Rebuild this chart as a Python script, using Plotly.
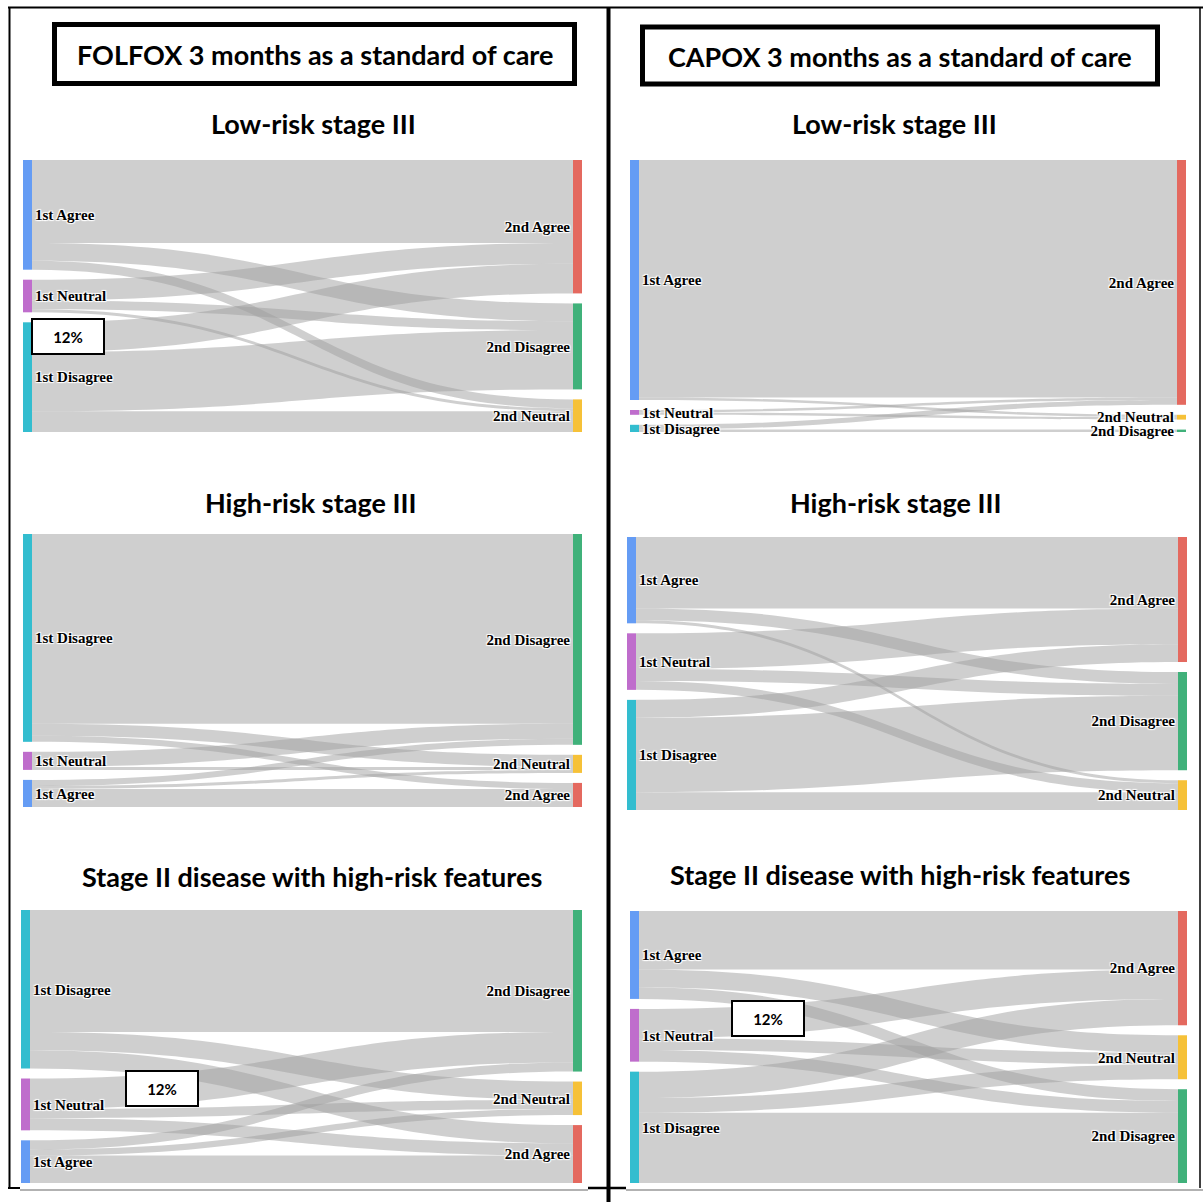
import plotly.graph_objects as go

# ---------------------------------------------------------------------------
# Data: respondents' opinion in the 1st round (rows) vs 2nd round (columns)
# order of rows / columns: Agree, Neutral, Disagree
# ---------------------------------------------------------------------------
OPINIONS = ["Agree", "Neutral", "Disagree"]

folfox_low_risk_III = [[28, 3, 6],
                       [7, 1, 3],
                       [10, 7, 20]]
folfox_high_risk_III = [[6, 1, 2],
                        [0, 1, 5],
                        [2, 4, 63]]
folfox_stage_II = [[9, 2, 3],
                   [4, 3, 10],
                   [6, 6, 40]]

capox_low_risk_III = [[99, 1, 0],
                      [1, 1, 0],
                      [2, 0, 1]]
capox_high_risk_III = [[24, 1, 4],
                       [12, 3, 4],
                       [6, 6, 25]]
capox_stage_II = [[20, 6, 4],
                  [10, 4, 4],
                  [9, 5, 24]]

REGIMEN_TITLES = ["FOLFOX 3 months as a standard of care",
                  "CAPOX 3 months as a standard of care"]
PANEL_TITLES = ["Low-risk stage III", "High-risk stage III",
                "Stage II disease with high-risk features"]

NODE_COLORS = {
    "1st Agree": "#659cf4",
    "1st Neutral": "#bf6dcc",
    "1st Disagree": "#33bdcf",
    "2nd Agree": "#e4695f",
    "2nd Neutral": "#f6c138",
    "2nd Disagree": "#40b17a",
}
LINK_COLOR = "rgba(160,160,160,0.5)"

# ---------------------------------------------------------------------------
# Page geometry (pixels)
# ---------------------------------------------------------------------------
W, H = 1203, 1202
PAD = 10        # gap between nodes
TH = 9          # node thickness
TITLE_FONT = dict(family="Lato, Open Sans, sans-serif", size=27, color="black", weight="bold")


def fx(x):
    return x / W


def fy(y):
    return 1 - y / H


# panel: flows, left order, right order, plot box (x0, y0, x1, y1), highlighted link
panels = [
    dict(flows=folfox_low_risk_III, left=["Agree", "Neutral", "Disagree"],
         right=["Agree", "Disagree", "Neutral"], box=(23, 160, 582, 432),
         note=("Disagree", "Agree", 68, 337)),
    dict(flows=folfox_high_risk_III, left=["Disagree", "Neutral", "Agree"],
         right=["Disagree", "Neutral", "Agree"], box=(23, 534, 582, 807), note=None),
    dict(flows=folfox_stage_II, left=["Disagree", "Neutral", "Agree"],
         right=["Disagree", "Neutral", "Agree"], box=(21, 910, 582, 1183),
         note=("Neutral", "Disagree", 162, 1088)),
    dict(flows=capox_low_risk_III, left=["Agree", "Neutral", "Disagree"],
         right=["Agree", "Neutral", "Disagree"], box=(630, 160, 1186, 432), note=None),
    dict(flows=capox_high_risk_III, left=["Agree", "Neutral", "Disagree"],
         right=["Agree", "Disagree", "Neutral"], box=(627, 537, 1187, 810), note=None),
    dict(flows=capox_stage_II, left=["Agree", "Neutral", "Disagree"],
         right=["Agree", "Neutral", "Disagree"], box=(630, 911, 1187, 1183),
         note=("Neutral", "Agree", 768, 1018)),
]

fig = go.Figure()
annotations = []

for p in panels:
    flows = p["flows"]
    x0, y0, x1, y1 = p["box"]
    wd, hd = x1 - x0, y1 - y0
    left_tot = {o: sum(flows[i]) for i, o in enumerate(OPINIONS)}
    right_tot = {o: sum(flows[i][j] for i in range(3)) for j, o in enumerate(OPINIONS)}
    total = sum(left_tot.values())
    ky = (hd - 2 * PAD) / total

    labels, colors, xs, ys, idx = [], [], [], [], {}
    for col, order, tot, prefix in ((0, p["left"], left_tot, "1st"),
                                    (1, p["right"], right_tot, "2nd")):
        pos = 0.0
        for o in order:
            h = tot[o] * ky
            name = f"{prefix} {o}"
            idx[name] = len(labels)
            labels.append(name)
            colors.append(NODE_COLORS[name])
            xs.append(TH / 2 / wd if col == 0 else 1 - TH / 2 / wd)
            ys.append((pos + h / 2) / hd)
            pos += h + PAD

    src, tgt, val = [], [], []
    for i, a in enumerate(OPINIONS):
        for j, b in enumerate(OPINIONS):
            if flows[i][j] > 0:
                src.append(idx[f"1st {a}"])
                tgt.append(idx[f"2nd {b}"])
                val.append(flows[i][j])

    fig.add_trace(go.Sankey(
        domain=dict(x=[fx(x0), fx(x1)], y=[fy(y1), fy(y0)]),
        arrangement="fixed",
        node=dict(label=labels, color=colors, x=xs, y=ys, pad=PAD,
                  thickness=TH, line=dict(width=0)),
        link=dict(source=src, target=tgt, value=val, color=LINK_COLOR),
        textfont=dict(family="Liberation Serif, Times New Roman, serif",
                      size=15, color="black", weight="bold"),
        hoverinfo="none",
    ))

    if p["note"]:
        a, b, cx, cy = p["note"]
        share = flows[OPINIONS.index(a)][OPINIONS.index(b)] / total
        annotations.append(dict(
            text=f"{round(share * 100)}%", x=fx(cx), y=fy(cy), xref="paper", yref="paper",
            xanchor="center", yanchor="middle", showarrow=False,
            width=70, height=33, borderwidth=2, borderpad=0,
            bordercolor="black", bgcolor="white",
            font=dict(family="Lato, Open Sans, sans-serif", size=15, color="black", weight="bold"),
        ))

# regimen headers
header_boxes = [(54.5, 24.5, 574.5, 83.5), (642.5, 27, 1157.5, 84)]
for text, (bx0, by0, bx1, by1) in zip(REGIMEN_TITLES, header_boxes):
    fig.add_shape(type="rect", xref="paper", yref="paper",
                  x0=fx(bx0), x1=fx(bx1), y0=fy(by1), y1=fy(by0),
                  line=dict(color="black", width=5), fillcolor="white", layer="below")
    annotations.append(dict(
        text=text, x=fx((bx0 + bx1) / 2), y=fy((by0 + by1) / 2 + 1), xref="paper", yref="paper",
        xanchor="center", yanchor="middle", showarrow=False, font=TITLE_FONT,
    ))

# panel titles
title_pos = [[(313, 123), (310, 502), (312, 876)],
             [(894, 123), (895, 502), (900, 874)]]
for col in range(2):
    for row, t in enumerate(PANEL_TITLES):
        tx, ty = title_pos[col][row]
        annotations.append(dict(
            text=t, x=fx(tx), y=fy(ty), xref="paper", yref="paper",
            xanchor="center", yanchor="middle", showarrow=False, font=TITLE_FONT,
        ))

# frame lines
def line(xa, ya, xb, yb, width, color="black"):
    fig.add_shape(type="line", xref="paper", yref="paper",
                  x0=fx(xa), y0=fy(ya), x1=fx(xb), y1=fy(yb),
                  line=dict(color=color, width=width))

line(8, 7.5, 1203, 7.5, 2)           # top
line(9.5, 7, 9.5, 1188, 2)           # left
line(1200, 7, 1200, 1188, 1.5)       # right
line(8, 1188, 20, 1188, 2)           # bottom-left corner
line(20, 1190, 588, 1190, 1.5, "#999999")
line(626, 1190, 1203, 1190, 1.5, "#999999")
line(608.5, 7, 608.5, 1202, 4)       # center divider
line(588, 1188, 626, 1188, 2.5)      # divider cross

fig.update_layout(
    width=W, height=H,
    margin=dict(l=0, r=0, t=0, b=0),
    paper_bgcolor="white", plot_bgcolor="white",
    annotations=annotations,
    showlegend=False,
)

fig.write_html("out.html")
